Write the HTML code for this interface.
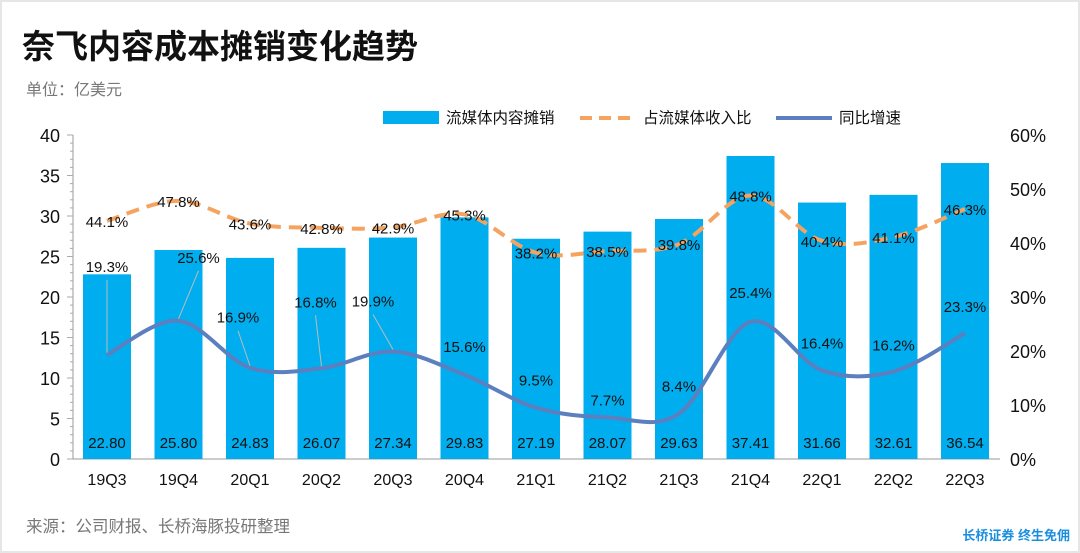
<!DOCTYPE html>
<html><head><meta charset="utf-8"><style>
body{margin:0;background:#fff;}
svg{display:block;font-family:"Liberation Sans","Noto Sans CJK SC",sans-serif;}
</style></head><body>
<svg id="c" width="1080" height="553" viewBox="0 0 1080 553">
<rect x="0" y="0" width="1080" height="553" fill="#fff"/>
<rect x="1" y="1" width="1078" height="551" fill="none" stroke="#e6e6e6" stroke-width="2"/>
<text x="22" y="58" font-size="33" font-weight="bold" fill="#111">奈飞内容成本摊销变化趋势</text>
<text x="26" y="95" font-size="16" fill="#777">单位：亿美元</text>
<g>
<rect x="383" y="111" width="56" height="13" fill="#00aeef"/>
<text x="446" y="123" font-size="15.5" fill="#111">流媒体内容摊销</text>
<line x1="580" y1="118" x2="636" y2="118" stroke="#f4a460" stroke-width="4" stroke-dasharray="12,7"/>
<text x="643" y="123" font-size="15.5" fill="#111">占流媒体收入比</text>
<line x1="776" y1="118" x2="832" y2="118" stroke="#5b7fbf" stroke-width="4"/>
<text x="839" y="123" font-size="15.5" fill="#111">同比增速</text>
</g>
<g id="plot"></g>
<text x="26" y="532" font-size="16.5" fill="#777">来源：公司财报、长桥海豚投研整理</text>
<text x="1070" y="540" font-size="13" font-weight="bold" fill="#1a8fe0" text-anchor="end">长桥证券 终生免佣</text>
</svg>
<script>
const categories=["19Q3","19Q4","20Q1","20Q2","20Q3","20Q4","21Q1","21Q2","21Q3","21Q4","22Q1","22Q2","22Q3"];
const amortization=[22.80,25.80,24.83,26.07,27.34,29.83,27.19,28.07,29.63,37.41,31.66,32.61,36.54];
const ratio=[44.1,47.8,43.6,42.8,42.9,45.3,38.2,38.5,39.8,48.8,40.4,41.1,46.3];
const growth=[19.3,25.6,16.9,16.8,19.9,15.6,9.5,7.7,8.4,25.4,16.4,16.2,23.3];
const leftTicks=[0,5,10,15,20,25,30,35,40];
const rightTicks=[0,10,20,30,40,50,60];
// label placement offsets (styling)
const gLabDx=[0,20,-12,-6,-20,0,0,0,0,0,0,0,0];
const gLabDy=[-83,-58,-45,-61,-45,-23,-22,-12,-22,-24,-22,-21,-21];
const gLeader=[true,true,true,true,true,false,false,false,false,false,false,false,false];

const NS="http://www.w3.org/2000/svg";
const g=document.getElementById('plot');
const X0=73,X1=1000,Y0=459,Y1=135;
const xC=i=>107+i*71.5;
const yL=v=>Y0-(v/40)*(Y0-Y1);
const yR=v=>Y0-(v/60)*(Y0-Y1);
function el(t,a){const e=document.createElementNS(NS,t);for(const k in a)e.setAttribute(k,a[k]);g.appendChild(e);return e;}
function txt(x,y,s,a){const e=el('text',Object.assign({x:x,y:y,'font-size':15,fill:'#111'},a||{}));e.textContent=s;return e;}
function smooth(pts){let d=`M${pts[0][0]},${pts[0][1]}`;for(let i=0;i<pts.length-1;i++){const p0=pts[i-1]||pts[i],p1=pts[i],p2=pts[i+1],p3=pts[i+2]||p2;const c1x=p1[0]+(p2[0]-p0[0])/6,c1y=p1[1]+(p2[1]-p0[1])/6,c2x=p2[0]-(p3[0]-p1[0])/6,c2y=p2[1]-(p3[1]-p1[1])/6;d+=` C${c1x},${c1y} ${c2x},${c2y} ${p2[0]},${p2[1]}`;}return d;}

let a=el('line',{x1:X0,y1:Y1,x2:X0,y2:Y0,stroke:'#999'});


for(let v=0;v<=40;v+=1){el('line',{x1:X0-(v%5===0?6:3),y1:yL(v),x2:X0,y2:yL(v),stroke:'#aaa'});}
leftTicks.forEach(v=>{const t=txt(60,yL(v)+7,String(v),{'text-anchor':'end','font-size':18});

});
rightTicks.forEach(v=>{const t=txt(1010,yR(v)+7,v+'%',{'font-size':18});

});
let b=el('line',{x1:X0,y1:Y0,x2:X1,y2:Y0,stroke:'#999'});


categories.forEach((c,i)=>{const t=txt(xC(i),485,c,{'text-anchor':'middle','font-size':16});

});

amortization.forEach((v,i)=>{const r=el('rect',{x:xC(i)-24,y:yL(v),width:48,height:Y0-yL(v),fill:'#00aeef'});


const t=txt(xC(i),448,v.toFixed(2),{'text-anchor':'middle'});

});

const rp=ratio.map((v,i)=>[xC(i),yR(v)]);
const rl=el('path',{d:smooth(rp),fill:'none',stroke:'#f4a460','stroke-width':4,'stroke-dasharray':'13,8'});


ratio.forEach((v,i)=>{const t=txt(xC(i),yR(v)+6,v.toFixed(1)+'%',{'text-anchor':'middle'});

});

const gp=growth.map((v,i)=>[xC(i),yR(v)]);
const gl=el('path',{d:smooth(gp),fill:'none',stroke:'#5b7fbf','stroke-width':4});


growth.forEach((v,i)=>{const lx=xC(i)+gLabDx[i],ly=yR(v)+gLabDy[i];
if(gLeader[i]){const l=el('line',{x1:lx,y1:ly+8,x2:xC(i),y2:yR(v)-2,stroke:'#bbb'});

}
const t=txt(lx,ly,v.toFixed(1)+'%',{'text-anchor':'middle'});

});
</script>
</body></html>
